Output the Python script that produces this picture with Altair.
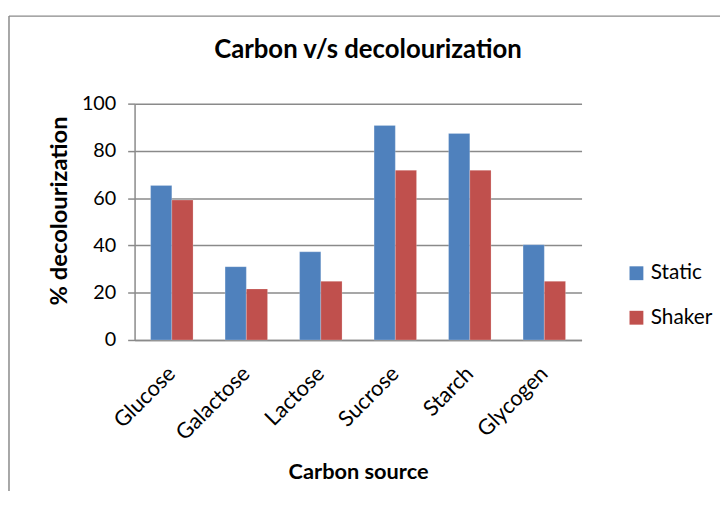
import altair as alt
import pandas as pd

categories = ["Glucose", "Galactose", "Lactose", "Sucrose", "Starch", "Glycogen"]
series = ["Static", "Shaker"]
static_vals = [65.4, 31.0, 37.3, 90.8, 87.4, 40.3]
shaker_vals = [59.2, 21.6, 24.8, 71.8, 71.8, 24.8]
colors = ["#4F81BD", "#C0504D"]

rows = []
for c, s, k in zip(categories, static_vals, shaker_vals):
    rows.append({"Carbon": c, "Series": "Static", "value": s})
    rows.append({"Carbon": c, "Series": "Shaker", "value": k})
df = pd.DataFrame(rows)

FONT = "Lato"
GRID = "#8a8a8a"
W, H = 452, 239

bars = alt.Chart(df).mark_bar(stroke="#ffffff", strokeOpacity=0.35, strokeWidth=0.6).encode(
    x=alt.X("Carbon:N", sort=categories,
            scale=alt.Scale(paddingInner=0.43, paddingOuter=0.215),
            axis=alt.Axis(title="Carbon source", labelAngle=-45, labelAlign="right",
                          labelBaseline="middle", ticks=False, labelPadding=30,
                          labelFontSize=22, labelFont=FONT, labelColor="#000",
                          titleFontSize=22, titleFont=FONT, titleFontWeight="bold",
                          titleColor="#000", titlePadding=18,
                          domainColor=GRID, domainWidth=1.5)),
    xOffset=alt.XOffset("Series:N", sort=series, scale=alt.Scale(domain=series, paddingInner=0, paddingOuter=0)),
    y=alt.Y("value:Q", scale=alt.Scale(domain=[0, 100]),
            axis=alt.Axis(title="% decolourization", values=[0, 20, 40, 60, 80, 100],
                          grid=True, gridColor=GRID, gridWidth=1.5,
                          domainColor=GRID, domainWidth=1.5,
                          tickColor=GRID, tickWidth=1.5, tickSize=7,
                          labelFontSize=20, labelFont=FONT, labelColor="#000",
                          labelPadding=12,
                          titleFontSize=24, titleFont=FONT, titleFontWeight="bold",
                          titleColor="#000", titlePadding=10, titleY=108)),
    color=alt.Color("Series:N", sort=series,
                    scale=alt.Scale(domain=series, range=colors),
                    legend=alt.Legend(title=None, orient="none", legendX=497, legendY=161,
                                      padding=0, symbolType="square", symbolSize=196,
                                      symbolStrokeWidth=0, labelFontSize=21,
                                      labelFont=FONT, labelColor="#000",
                                      rowPadding=23, labelOffset=4)),
)

border_data = alt.Data(values=[{"k": 1}])
left_border = alt.Chart(border_data).mark_rule(color=GRID, strokeWidth=1.5).encode(
    x=alt.value(-127), y=alt.value(-88.5), y2=alt.value(H + 200)
)
top_border = alt.Chart(border_data).mark_rule(color=GRID, strokeWidth=1.5).encode(
    x=alt.value(-127), x2=alt.value(W + 200), y=alt.value(-88.5)
)

chart = alt.layer(bars, left_border, top_border).properties(
    width=W, height=H,
    title=alt.TitleParams("Carbon v/s decolourization", fontSize=26, font=FONT,
                          fontWeight="bold", color="#000", anchor="middle",
                          baseline="alphabetic", dx=10, offset=-69),
    autosize=alt.AutoSizeParams(type="none"),
    padding={"left": 128, "top": 94, "right": 140, "bottom": 150},
).configure_view(stroke=None)

chart.save("out.html", embed_options={"renderer": "svg", "actions": False})
